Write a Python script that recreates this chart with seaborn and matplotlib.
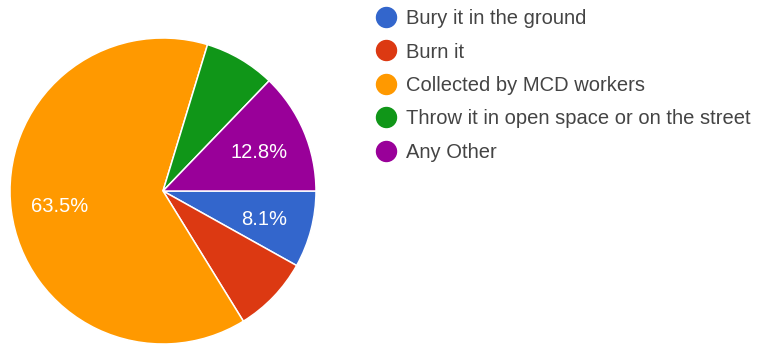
import matplotlib
matplotlib.use("Agg")
import matplotlib.pyplot as plt
import seaborn as sns
from matplotlib.lines import Line2D

categories = ["Bury it in the ground", "Burn it", "Collected by MCD workers",
              "Throw it in open space or on the street", "Any Other"]
shares = [8.1, 8.1, 63.5, 7.5, 12.8]
shown_labels = ["8.1%", "", "63.5%", "", "12.8%"]
colors = ["#3366cc", "#dc3912", "#ff9900", "#109618", "#990099"]

sns.set_style("white")
plt.rcParams['font.family'] = ['Liberation Sans', 'DejaVu Sans']

W, H = 757, 349
fig = plt.figure(figsize=(W / 100, H / 100), dpi=100)
cx, cy, r = 163, 191, 153
ax = fig.add_axes([(cx - r) / W, (H - cy - r) / H, 2 * r / W, 2 * r / H])

palette = sns.color_palette(colors)
wedges, texts = ax.pie(shares, colors=palette, startangle=0, counterclock=False,
                       labels=shown_labels, labeldistance=0.68, radius=1,
                       wedgeprops=dict(edgecolor='white', linewidth=1.1),
                       textprops=dict(color='white', fontsize=14.5,
                                      ha='center', va='center_baseline'))
for w in wedges:
    w.set_clip_on(False)
ax.set_xlim(-1, 1)
ax.set_ylim(-1, 1)
ax.set_aspect('equal')
ax.axis('off')

handles = [Line2D([0], [0], marker='o', linestyle='none', markersize=14.4,
                  markerfacecolor=c, markeredgecolor=c) for c in palette]
fig.legend(handles, categories, loc='upper left',
           bbox_to_anchor=(376 / W, 1 - 9 / H), frameon=False, fontsize=14.5,
           labelcolor='#444444', labelspacing=0.72, handlelength=1.0,
           handletextpad=0.5, borderaxespad=0, borderpad=0)

fig.savefig("out.png", dpi=100, facecolor='white')
